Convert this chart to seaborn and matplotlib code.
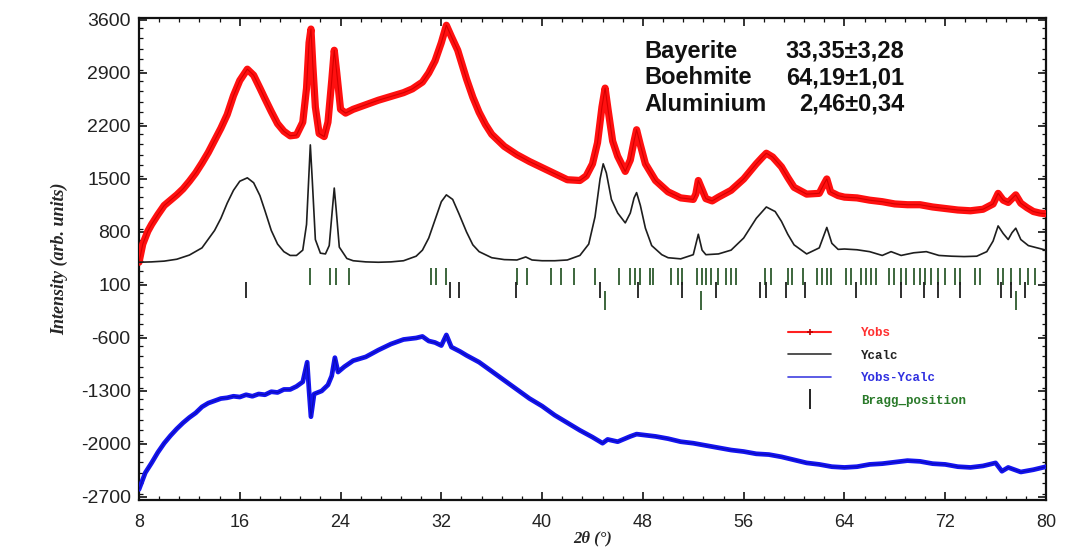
import matplotlib
matplotlib.use("Agg")
import matplotlib.pyplot as plt
from matplotlib.lines import Line2D
from matplotlib.ticker import MultipleLocator
import seaborn as sns
import pandas as pd

# ---------------- data ----------------
tt_obs = [8.0, 8.3, 8.7, 9.0, 9.5, 10, 10.5, 11, 11.5, 12, 12.5, 13, 13.5, 14, 14.5, 15, 15.5, 16,
          16.6, 17.1, 17.6, 18, 18.5, 19, 19.5, 20, 20.5, 21.0, 21.3, 21.5, 21.65, 21.8, 22.0, 22.3,
          22.7, 23.0, 23.3, 23.5, 23.7, 24.0, 24.4, 25, 26, 27, 28, 29, 29.7, 30.5, 31, 31.5, 32,
          32.4, 32.8, 33.3, 34, 34.5, 35, 35.5, 36, 37, 38, 39, 40, 41, 42, 43, 43.5, 44, 44.4,
          44.75, 45.0, 45.25, 45.6, 46.0, 46.6, 47.0, 47.3, 47.5, 47.8, 48.2, 49, 50, 51, 52, 52.2,
          52.4, 52.6, 53.0, 53.5, 54, 55, 56, 57, 57.5, 57.8, 58.3, 59, 59.5, 60, 61, 62, 62.4,
          62.6, 62.9, 63.5, 64, 65, 66, 67, 68, 69, 70, 71, 72, 73, 74, 75, 75.8, 76.2, 76.6, 77.0,
          77.3, 77.6, 78.0, 78.5, 79, 79.5, 80]
y_obs = [400, 640, 810, 900, 1030, 1150, 1220, 1290, 1370, 1470, 1580, 1710, 1850, 2010, 2170, 2350,
         2600, 2800, 2950, 2870, 2700, 2560, 2390, 2230, 2130, 2070, 2080, 2250, 2700, 3300, 3480,
         3000, 2450, 2100, 2060, 2250, 2800, 3200, 2900, 2420, 2370, 2420, 2480, 2540, 2590, 2640,
         2690, 2780, 2900, 3060, 3300, 3530, 3380, 3200, 2820, 2580, 2380, 2220, 2090, 1930, 1820,
         1730, 1650, 1570, 1490, 1480, 1540, 1700, 1980, 2450, 2700, 2400, 2000, 1800, 1600, 1750,
         2000, 2150, 1950, 1700, 1480, 1330, 1250, 1230, 1300, 1480, 1400, 1240, 1210, 1260, 1350,
         1500, 1700, 1790, 1840, 1790, 1660, 1520, 1390, 1300, 1310, 1440, 1500, 1330, 1280, 1260,
         1250, 1220, 1200, 1170, 1160, 1160, 1130, 1110, 1090, 1080, 1100, 1170, 1310, 1220, 1190,
         1240, 1290, 1180, 1120, 1070, 1050, 1040]

tt_calc = [8, 9, 10, 11, 12, 13, 14, 14.5, 15, 15.5, 16, 16.6, 17.1, 17.6, 18, 18.5, 19, 19.5, 20,
           20.5, 21.0, 21.3, 21.5, 21.6, 21.75, 22.0, 22.4, 22.8, 23.1, 23.35, 23.5, 23.65, 23.9,
           24.5, 25, 26, 27, 28, 29, 30, 30.5, 31, 31.5, 32, 32.4, 32.9, 33.4, 34, 34.5, 35, 36, 37,
           38, 38.7, 39.2, 40, 41, 42, 43, 43.7, 44.2, 44.6, 44.85, 45.1, 45.5, 46.0, 46.6, 47.0,
           47.3, 47.5, 47.8, 48.2, 48.7, 49.5, 50, 51, 52, 52.4, 52.7, 53, 54, 55, 56, 57, 57.8,
           58.5, 59, 59.5, 60, 61, 62, 62.6, 63, 63.5, 64, 65, 66, 67, 67.7, 68.5, 69.5, 70.5, 71.5,
           72.5, 73.5, 74.5, 75.3, 75.8, 76.2, 76.6, 77.0, 77.3, 77.6, 78.0, 78.6, 79.3, 80]
y_calc = [400, 405, 415, 440, 495, 590, 820, 980, 1180, 1350, 1470, 1515, 1450, 1280, 1080, 820,
          640, 540, 490, 490, 560, 900, 1600, 1950, 1500, 700, 520, 510, 620, 1100, 1380, 1100, 600,
          450, 420, 405, 400, 405, 420, 480, 560, 720, 960, 1200, 1290, 1230, 1040, 800, 630, 540,
          460, 435, 430, 470, 430, 420, 420, 430, 490, 640, 1000, 1500, 1700, 1580, 1230, 1050, 920,
          1050, 1250, 1320, 1150, 850, 620, 500, 460, 445, 500, 770, 560, 500, 510, 560, 720, 980,
          1130, 1070, 940, 770, 630, 510, 590, 860, 650, 570, 575, 565, 540, 490, 540, 490, 525,
          540, 490, 480, 475, 480, 540, 680, 880, 780, 700, 790, 850, 700, 620, 590, 560]

tt_diff = [8, 8.5, 9, 9.5, 10, 10.5, 11, 11.5, 12, 12.5, 13, 13.5, 14, 14.5, 15, 15.5, 16, 16.5, 17,
           17.5, 18, 18.5, 19, 19.5, 20, 20.5, 21.0, 21.35, 21.5, 21.65, 21.9, 22.5, 23.0, 23.3,
           23.55, 23.8, 24.3, 25, 26, 27, 28, 29, 30, 30.5, 31, 31.5, 32, 32.4, 32.8, 33.5, 34, 35,
           36, 37, 38, 39, 40, 41, 42, 43, 44, 44.8, 45.2, 46, 47, 47.5, 48, 49, 50, 51, 52, 53, 54,
           55, 56, 57, 58, 59, 60, 61, 62, 63, 64, 65, 66, 67, 68, 69, 70, 71, 72, 73, 74, 75, 76,
           76.5, 77, 78, 79, 80]
y_diff = [-2600, -2380, -2250, -2110, -1990, -1890, -1800, -1720, -1650, -1590, -1510, -1460, -1430,
          -1400, -1390, -1370, -1380, -1350, -1370, -1340, -1350, -1310, -1320, -1280, -1280, -1240,
          -1180, -920, -1300, -1640, -1340, -1300, -1220, -1100, -860, -1050, -980, -900, -850, -760,
          -680, -620, -600, -580, -640, -660, -700, -560, -720, -780, -830, -920, -1040, -1160,
          -1280, -1400, -1500, -1620, -1720, -1820, -1910, -1990, -1940, -1970, -1900, -1870, -1880,
          -1900, -1930, -1970, -1990, -2020, -2050, -2080, -2100, -2130, -2140, -2170, -2210, -2250,
          -2270, -2300, -2310, -2300, -2270, -2260, -2240, -2220, -2230, -2260, -2270, -2300, -2310,
          -2290, -2250, -2360, -2310, -2370, -2340, -2300]

bragg_row1 = [21.6, 23.2, 23.6, 24.65, 31.2, 31.6, 32.4, 38.0, 38.8, 40.7, 41.5, 42.5, 44.2, 46.1,
              47.0, 47.4, 47.8, 48.6, 48.8, 50.2, 50.8, 51.1, 52.3, 52.7, 53.0, 53.4, 54.0, 54.6,
              55.0, 55.4, 57.7, 58.2, 59.5, 59.8, 60.7, 61.8, 62.2, 62.6, 62.9, 64.1, 64.5, 65.3,
              65.7, 66.1, 66.5, 67.5, 67.9, 68.5, 68.9, 69.5, 70.0, 70.4, 70.9, 71.4, 72.0, 72.8,
              73.2, 74.4, 74.8, 76.2, 76.6, 77.2, 77.9, 78.6, 79.1]
bragg_row2 = [16.5, 32.7, 33.4, 37.9, 44.6, 47.6, 51.1, 53.8, 57.3, 57.8, 59.4, 60.9, 64.9, 68.5,
              70.3, 71.4, 73.2, 76.4, 77.2, 78.3]
bragg_row3 = [45.0, 52.6, 77.6]

phases = ["Bayerite", "Boehmite", "Aluminium"]
fractions = ["33,35±3,28", "64,19±1,01", "2,46±0,34"]
legend_labels = ["Yobs", "Ycalc", "Yobs-Ycalc", "Bragg_position"]

x_ticks = [8, 16, 24, 32, 40, 48, 56, 64, 72, 80]
y_ticks = [3600, 2900, 2200, 1500, 800, 100, -600, -1300, -2000, -2700]

# ---------------- plot ----------------
sns.set_theme(style="ticks")
plt.rcParams["font.family"] = ["Liberation Sans", "DejaVu Sans"]
plt.rcParams["axes.unicode_minus"] = False

fig = plt.figure(figsize=(10.65, 5.55), dpi=100)
ax = fig.add_axes([139 / 1065, 1 - 500 / 555, 907 / 1065, 482 / 555])

obs = pd.DataFrame({"tt": tt_obs, "y": y_obs})
calc = pd.DataFrame({"tt": tt_calc, "y": y_calc})
diff = pd.DataFrame({"tt": tt_diff, "y": y_diff})

sns.lineplot(data=obs, x="tt", y="y", ax=ax, color="#ff1010", lw=5.2, sort=False,
             estimator=None, zorder=3)
sns.lineplot(data=obs, x="tt", y="y", ax=ax, color="#d40000", lw=0.8, sort=False,
             estimator=None, zorder=4)
sns.lineplot(data=calc, x="tt", y="y", ax=ax, color="#1e1e1e", lw=1.2, sort=False,
             estimator=None, zorder=5)
sns.lineplot(data=diff, x="tt", y="y", ax=ax, color="#1414f0", lw=3.4, sort=False,
             estimator=None, zorder=3)
sns.lineplot(data=diff, x="tt", y="y", ax=ax, color="#0a0ab0", lw=0.7, sort=False,
             estimator=None, zorder=4)

ax.vlines(bragg_row1, 102, 326, color="#2d5a2d", lw=1.3)
ax.vlines(bragg_row2, -70, 142, color="#1e1e1e", lw=1.3)
ax.vlines(bragg_row3, -228, 20, color="#2d5a2d", lw=1.3)

ax.set_xlim(8, 80)
ax.set_ylim(-2740, 3626)
ax.set_xticks(x_ticks)
ax.set_yticks(y_ticks)
ax.xaxis.set_minor_locator(MultipleLocator(1.6))
ax.yaxis.set_minor_locator(MultipleLocator(140))
ax.tick_params(which="both", direction="in", top=True, right=True, color="#111")
ax.tick_params(which="major", length=6, width=1.2)
ax.tick_params(which="minor", length=3, width=0.9)
ax.tick_params(axis="y", labelsize=14, pad=6, labelcolor="#222")
ax.tick_params(axis="x", labelsize=13, pad=10, labelcolor="#222")
for s in ax.spines.values():
    s.set_linewidth(1.6)
    s.set_color("#111")

ax.set_xlabel("2θ (°)", family=["Liberation Serif", "DejaVu Serif"], style="italic",
              weight="bold", fontsize=12, labelpad=0)
ax.set_ylabel("Intensity (arb. units)", family=["Liberation Serif", "DejaVu Serif"],
              style="italic", weight="bold", fontsize=13, labelpad=9)

for i, (p, f) in enumerate(zip(phases, fractions)):
    yb = 0.918 - i * 0.055
    ax.text(0.557, yb, p, transform=ax.transAxes, fontsize=17, weight="bold",
            va="baseline", ha="left", color="#111")
    ax.text(0.844, yb, f, transform=ax.transAxes, fontsize=17, weight="bold",
            va="baseline", ha="right", color="#111")

handles = [Line2D([], [], color="#ff2020", lw=1.5, marker="+", ms=5, mew=1.2, mec="#c00000"),
           Line2D([], [], color="#333333", lw=1.2),
           Line2D([], [], color="#4040e0", lw=1.2),
           Line2D([], [], color="#111111", lw=0, marker="|", ms=14, mew=1.3)]
leg = ax.legend(handles, legend_labels, loc="upper left", bbox_to_anchor=(0.716, 0.359),
                frameon=False, borderaxespad=0, borderpad=0, handlelength=3.4,
                handletextpad=2.4, labelspacing=0.85,
                prop={"family": ["Liberation Mono", "DejaVu Sans Mono"], "size": 9,
                      "weight": "bold"},
                labelcolor=["#ff3030", "#222222", "#3030e0", "#2a7a2a"])

fig.savefig("out.png", dpi=100, facecolor="white")
